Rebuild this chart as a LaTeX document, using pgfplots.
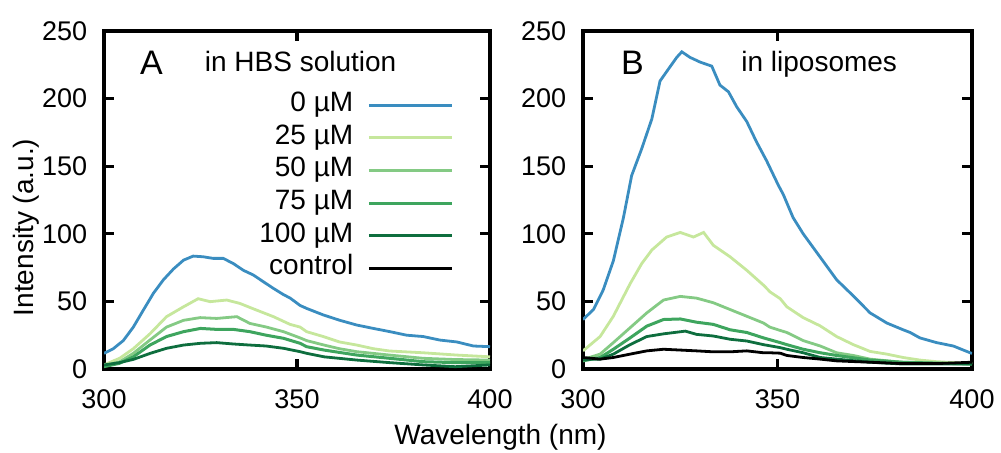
\documentclass[border=0pt]{standalone}
\usepackage{fontspec}
\setmainfont{Liberation Sans}
\usepackage{pgfplots}
\pgfplotsset{compat=1.18}
\definecolor{cblue}{HTML}{3A8DC0}
\definecolor{cg1}{HTML}{C6E79C}
\definecolor{cg2}{HTML}{84CA84}
\definecolor{cg3}{HTML}{3EA55E}
\definecolor{cg4}{HTML}{0E6E3E}
\pgfplotsset{
  panel/.style={
    scale only axis, anchor=south west,
    xmin=300, xmax=400, ymin=0, ymax=250,
    xtick={300,350,400}, ytick={0,50,100,150,200,250},
    /pgf/number format/assume math mode=true,
    tick label style={font=\fontsize{13.5}{16}\selectfont},
    tick align=inside, major tick length=5pt,
    every tick/.append style={black, line width=1.6pt},
    line width=1.6pt,
    xticklabel shift=6pt,
    yticklabel shift=4.3pt,
  }
}
\begin{document}
\begin{tikzpicture}
\useasboundingbox (-52pt,-42pt) rectangle (448.5pt,184.5pt);
\begin{axis}[panel, at={(0pt,0pt)}, width=193pt, height=169pt,
  legend style={draw=none, fill=none, inner sep=0pt, at={(0.909,0.825)}, anchor=north east,
    font=\fontsize{14}{16}\selectfont,
    nodes={inner sep=0pt, text height=10pt, text depth=3.5pt},
    row sep=2.8pt, column sep=7pt},
  legend cell align=right, legend plot pos=right,
  legend image code/.code={\draw[#1] (0pt,0pt) -- (41.5pt,0pt);},
]
\addplot[cblue, line width=1.4pt] coordinates {(300,11.6)(302.4,15)(305,21)(307.6,31)(310.2,43.6)(312.8,56)(315.4,66)(318,74)(320.6,80.5)(323.1,83.5)(325.7,83)(328.3,81.8)(330.9,81.8)(333.5,78)(336.1,73)(338.7,69.5)(341.3,64.5)(343.9,59.6)(346.5,55)(348.2,52.5)(350.8,47)(352.5,44.8)(356.8,40)(361.1,36)(365.5,32.5)(369.8,30)(374.1,27.6)(378.4,25)(382.7,24)(387,21.4)(391.4,20)(395.7,17)(400,16.5)};
\addlegendentry{0 µM}
\addplot[cg1, line width=1.4pt] coordinates {(300,3)(304.1,8)(307.6,15)(311.9,26)(316.2,38.7)(320.6,46)(324.4,52)(327.5,49.8)(331.8,51)(335.2,48.5)(339.5,43.6)(343.9,38.7)(348.2,33)(350.8,31)(352.5,27.6)(356.8,24)(361,20)(365.5,17.7)(369.8,15)(374,13.3)(382.7,12)(391.4,10.3)(400,9)};
\addlegendentry{25 µM}
\addplot[cg2, line width=1.4pt] coordinates {(300,2.2)(304.1,5.4)(307.6,11.6)(311.9,21.4)(316.2,31)(320.6,36)(324.9,38)(329.2,37.4)(334.4,38.7)(337.8,33.7)(342.1,31)(346.5,27.6)(350.8,23)(352.5,21)(357,17.7)(361,15)(365.5,12.8)(374,10.3)(382.7,7.9)(391,7)(400,6.6)};
\addlegendentry{50 µM}
\addplot[cg3, line width=1.5pt] coordinates {(300,1.7)(304,4.2)(307.6,9)(311.9,17.7)(316.2,24)(320.6,27.6)(325,30)(329.2,29.3)(333.5,29.3)(337.8,27.6)(342,25)(346.5,22.7)(350.8,19)(352.5,16.5)(357,14)(365.5,10.3)(374,7.9)(382.7,5.4)(391,4.7)(400,4.7)};
\addlegendentry{75 µM}
\addplot[cg4, line width=1.4pt] coordinates {(300,3)(304,4.7)(307.6,7.1)(312,11.6)(316.2,15.3)(320.6,17.7)(325,19)(329.2,19.5)(333.5,18.5)(337.8,17.7)(342,17)(346.5,15.3)(350.8,12.8)(352.5,11.6)(357,9)(365.5,6.6)(374,4.7)(382.7,3)(391,1.7)(400,3)};
\addlegendentry{100 µM}
\addlegendimage{black, line width=1.4pt}
\addlegendentry{control}
\node[anchor=base west, font=\fontsize{17}{19}\selectfont] at (axis description cs:0.072,0.870) {A};
\node[anchor=base west, font=\fontsize{14}{16}\selectfont] at (axis description cs:0.240,0.880) {in HBS solution};
\end{axis}
\begin{axis}[panel, at={(239.5pt,0pt)}, width=194.5pt, height=169pt]
\addplot[cblue, line width=1.4pt] coordinates {(300,36.6)(302.7,44)(305.2,58.5)(307.8,80)(310.4,112)(312.5,143)(315.1,163)(317.7,185)(319.8,213)(322,222)(324.1,230.5)(325.4,234.6)(327.5,230.5)(330.1,227)(333.1,224)(335.2,210)(337.4,205)(339.5,194)(342.1,183)(344.6,168)(347.2,154)(350.2,136)(351.5,129)(354,112)(356.6,100)(360.9,83)(365.2,66)(369.5,54)(373.8,41.5)(378.1,34)(382.3,29)(384.1,27)(386.6,23)(390.9,19.5)(395.2,17)(399.5,12)(400,11.5)};
\addplot[cg1, line width=1.4pt] coordinates {(300,13.4)(304.4,24)(307.8,39)(312.1,63)(315.1,78)(317.7,88)(321.5,97.6)(325,101)(328.4,97.6)(331,101)(333.5,91.5)(337.8,83)(342.1,73)(346.4,62)(348.1,57)(350.7,52)(352.4,46)(356.6,38)(360.9,32)(365.2,24)(369.5,18)(373.8,13)(378.1,11)(382.3,8.5)(386.6,6.6)(390.9,5.4)(400,4)};
\addplot[cg2, line width=1.4pt] coordinates {(300,7)(304.4,11)(307.8,19.5)(312.1,30.5)(316.4,41.5)(320.7,51)(325,53.7)(329.2,52.4)(333.5,49)(337.8,44)(342.1,39)(346.4,34)(348,31)(350.7,28.5)(352.4,27)(356.6,21)(361,17)(365.2,12)(369.5,10)(373.8,7.3)(382,5)(400,3.7)};
\addplot[cg3, line width=1.5pt] coordinates {(300,6)(304.4,8.5)(307.8,14.6)(312.1,23)(316.4,31.7)(320.7,36.6)(325,37)(329.2,34.6)(333.5,33)(337.8,29)(342.1,27)(346.4,23)(350.7,19.5)(352.4,18)(356.6,14.6)(361,12)(365.2,10)(373.8,6.6)(382,5)(400,3.7)};
\addplot[cg4, line width=1.4pt] coordinates {(300,7)(304.4,7.3)(307.8,11)(312.1,18)(316.4,24)(320.7,26)(326.3,28)(329.2,25.6)(333.5,24.4)(337.8,22)(342.1,20.7)(346.4,18)(350.7,15.8)(352.4,14.6)(356.6,12)(361,8.5)(365.2,7.3)(373.8,5)(382,3.7)(400,3.7)};
\addplot[black, line width=1.4pt] coordinates {(300,8.5)(304.4,7.3)(307.8,8.5)(312.1,11)(316.4,13.4)(320.7,14.6)(325,14)(329.2,13.4)(333.5,12.7)(337.8,12.7)(342.1,13.4)(346.4,12)(348,12)(350.7,11.7)(352.4,10)(356.6,8.5)(361,7.3)(365.2,6)(373.8,5)(382,4)(391,4)(400,5)};
\node[anchor=base west, font=\fontsize{17}{19}\selectfont] at (axis description cs:0.077,0.870) {B};
\node[anchor=base west, font=\fontsize{14}{16}\selectfont] at (axis description cs:0.386,0.880) {in liposomes};
\end{axis}
\node[font=\fontsize{14}{16}\selectfont] at (198.25pt,-34pt) {Wavelength (nm)};
\node[rotate=90, font=\fontsize{14}{16}\selectfont] at (-39pt,70.75pt) {Intensity (a.u.)};
\end{tikzpicture}
\end{document}
